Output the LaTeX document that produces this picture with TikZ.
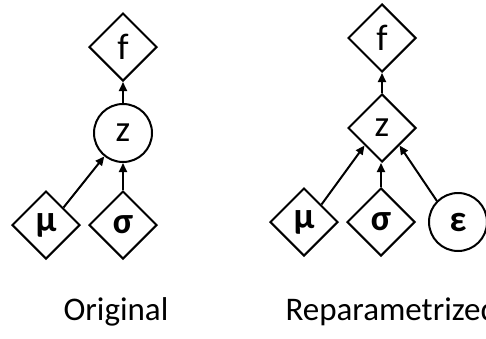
\documentclass[tikz,border=0pt]{standalone}
\usepackage{fontspec}
\setmainfont{Carlito}
\usetikzlibrary{shapes.geometric,arrows.meta}
\begin{document}
\begin{tikzpicture}[x=1pt,y=-1pt,
  every node/.style={font=\fontsize{37}{40}\selectfont},
  det/.style={draw,line width=2pt,shape=diamond,minimum width=68pt,minimum height=68pt,inner sep=0pt},
  rnd/.style={draw,line width=2pt,circle,minimum size=58pt,inner sep=0pt},
  link/.style={line width=2pt,-{Triangle[length=9pt,width=8pt]}},
  caption/.style={font=\fontsize{33}{36}\selectfont}]
\useasboundingbox (0,0) rectangle (486,338);
\clip (0,0) rectangle (486,338);

% original graph
\node[det] (fA) at (123,47) {f};
\node[rnd] (zA) at (123,133) {z};
\node[det] (muA) at (46,225) {\textbf{μ}};
\node[det] (sgA) at (123,225) {\textbf{σ}};
\draw[link] (zA) -- (fA);
\draw[link] (sgA) -- (zA);
\draw[link] (muA.north east) -- (zA);

% reparametrized graph
\node[det] (fB) at (382,38) {f};
\node[det] (zB) at (382,128) {z};
\node[det] (muB) at (304,222) {\textbf{μ}};
\node[det] (sgB) at (381,222) {\textbf{σ}};
\node[rnd] (epB) at (458,222) {\textbf{ε}};
\draw[link] (zB) -- (fB);
\draw[link] (sgB.north) -- (sgB.north |- zB.south);
\draw[link] (muB.north east) -- (zB.south west);
\draw[link] (epB.north west) -- (zB.south east);

% captions
\node[caption,anchor=base] (capA) at (116,320) {Original};
\node[caption,anchor=base west] (capB) at (282,320) {Reparametrized};
\end{tikzpicture}
\end{document}
